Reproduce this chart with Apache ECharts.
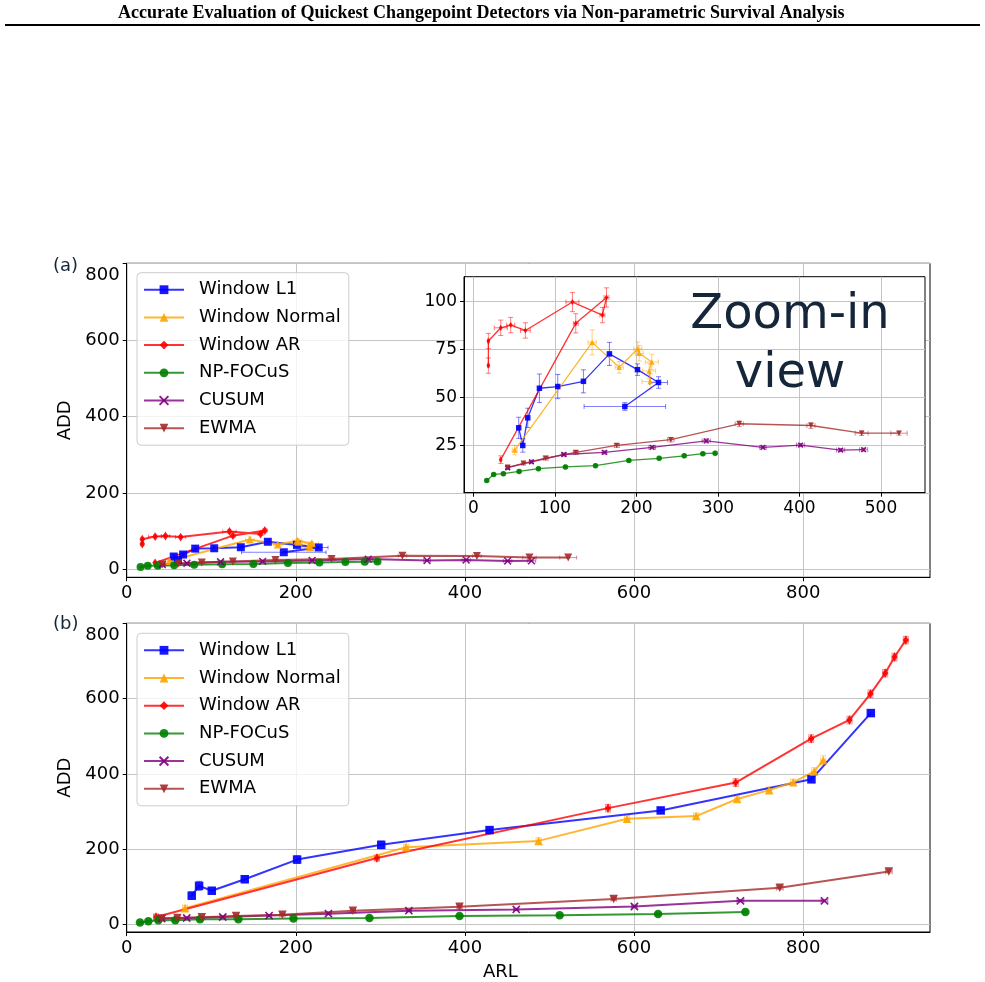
<!DOCTYPE html>
<html><head><meta charset="utf-8">
<script src="https://cdn.jsdelivr.net/npm/echarts@6/dist/echarts.min.js"></script>
<style>html,body{margin:0;padding:0;background:#fff}#c{width:985px;height:982px}</style>
</head><body><div id="c"></div>
<script>
// ---------------- DATA ----------------
const seriesNames = ['Window L1','Window Normal','Window AR','NP-FOCuS','CUSUM','EWMA'];
const xTicksMain = [0,200,400,600,800];
const yTicksMain = [0,200,400,600,800];
const xTicksInset = [0,100,200,300,400,500];
const yTicksInset = [25,50,75,100];

// Panel (a) (also the zoom-in inset): [ARL, ADD]
const aL1     = [[55.6,34.3],[60.6,25.1],[66.7,39.5],[81.0,54.9],[103.5,55.8],[135.0,58.5],[166.9,72.8],[201.3,64.6],[227.1,57.9],[185.8,45.4]];
const aL1Err  = [[1,5.5],[1,3.5],[1,5],[1,7.4],[1,6.3],[2,6],[2,6],[2,3],[11,3],[50,2]];
const aNorm   = [[50.7,22.7],[145.7,78.8],[178.8,65.8],[201.7,75.5],[203.4,73.1],[218.9,68.6],[215.6,63.9],[216.9,58.4]];
const aNormErr= [[3,2.5],[5,6.5],[5,3],[5,3.5],[5,4],[8,4],[8,4],[10,4]];
const aAR     = [[18.4,66.7],[18.4,79.5],[33.6,86.4],[45.8,87.8],[63.8,85.0],[121.5,99.8],[158.3,93.0],[163.3,102.2],[125.6,88.7],[33.6,17.7]];
const aARErr  = [[1,4],[1,4],[8,4],[5,4],[6,4],[8,5],[3,4],[3,5],[3,5],[1,2]];
const aFocus  = [[16.4,6.8],[24.9,10.0],[36.8,10.4],[56.1,11.6],[79.8,13.0],[112.9,13.9],[149.8,14.6],[190.7,17.3],[227.9,18.4],[258.6,19.7],[281.5,20.8],[296.6,21.1]];
const aFocusErr=[[1,0.6],[1,0.6],[1,0.6],[1,0.6],[1,0.6],[1,0.6],[1,0.6],[1,0.6],[1,0.6],[1,0.6],[1,0.6],[1,0.6]];
const aCusum  = [[42.1,13.5],[71.2,16.6],[111.0,20.4],[160.8,21.5],[219.3,24.1],[285.6,27.5],[355.2,24.1],[401.4,25.3],[450.5,22.7],[478.7,22.9]];
const aCusumErr=[[2,0.8],[2,0.8],[3,0.8],[3,0.8],[4,0.8],[5,1],[4,0.8],[5,0.8],[5,0.8],[5,0.8]];
const aEwma   = [[42.1,13.7],[61.4,15.8],[88.8,18.5],[125.6,21.5],[175.9,25.1],[242.2,28.1],[326.1,36.4],[414.1,35.5],[476.3,31.5],[522.1,31.5]];
const aEwmaErr= [[2,0.8],[2,0.8],[3,1],[3,1],[3,1],[4,1.2],[5,1.5],[5,1.5],[8,1.2],[10,1]];

// Panel (b): [ARL, ADD]
const bL1     = [[76.9,76.5],[85.6,102.6],[100.6,89.6],[139.6,120.1],[201.5,172.4],[301,211.5],[429.1,250.7],[631.5,302.9],[809.8,385.5],[880,561.5]];
const bL1Err  = [[3,10],[3,12],[3,8],[3,9],[3,10],[3,10],[3,8],[3,8],[3,8],[3,8]];
const bNorm   = [[69,43.4],[330.5,205.3],[487.1,222],[591.7,281],[673.4,288],[721.9,333.2],[759.8,356.8],[788.2,377.6],[813,406.4],[823.7,436.1]];
const bNormErr= [[3,8],[3,8],[3,8],[3,8],[3,8],[3,8],[3,8],[3,8],[3,10],[3,12]];
const bAR     = [[34.7,19.9],[295.9,176.5],[569.2,309],[720.2,376.9],[809.5,493.6],[854.8,543.2],[879.6,612.7],[897,667.5],[908,710.4],[921.4,755.5]];
const bARErr  = [[3,8],[3,8],[3,10],[3,10],[3,10],[3,10],[3,10],[3,10],[3,10],[3,10]];
const bFocus  = [[15.7,5.2],[25.6,8.6],[37.4,11.2],[57.5,11.2],[86.7,13.8],[132.1,13.8],[197.2,15.7],[287.1,17.2],[393.6,22.5],[512,24.3],[628.4,27.7],[731.7,32.9]];
const bFocusErr=[[2,3],[2,3],[2,3],[2,3],[2,3],[2,3],[2,3],[2,3],[2,3],[2,3],[2,3],[2,3]];
const bCusum  = [[41.4,15.7],[71,17.2],[113.6,19.9],[168.4,23.5],[238.6,28.7],[333.7,36.6],[460.7,40],[600.4,47.8],[725.8,62.7],[825.2,62.7]];
const bCusumErr=[[3,3],[3,3],[3,3],[3,3],[3,3],[3,3],[3,3],[3,3],[4,3],[4,3]];
const bEwma   = [[41.4,15.7],[59.9,17.2],[88.8,19],[129.3,22.5],[184.1,26.1],[267.5,36.6],[393.6,47],[575.9,67.9],[772.3,97.4],[901.3,141]];
const bEwmaErr= [[3,3],[3,3],[3,3],[3,3],[3,3],[3,4],[3,4],[3,4],[4,4],[4,4]];

// ---------------- STYLE ----------------
const colors  = ['#0000ff','#ffa500','#ff0000','#008000','#800080','#a52a2a'];
const symbols = ['rect','triangle','diamond','circle','path://M0,0L10,10M10,0L0,10','triangle'];
const rotates = [0,0,0,0,0,180];
const FONT = 'DejaVu Sans';
const INK = '#16263a';

const panelA = [[aL1,aL1Err],[aNorm,aNormErr],[aAR,aARErr],[aFocus,aFocusErr],[aCusum,aCusumErr],[aEwma,aEwmaErr]];
const panelB = [[bL1,bL1Err],[bNorm,bNormErr],[bAR,bARErr],[bFocus,bFocusErr],[bCusum,bCusumErr],[bEwma,bEwmaErr]];

function symSize(i, s){
  if (i===2) return [s*0.7, s*1.1];
  if (i===4) return s*0.85;
  return s;
}
function lineSeries(i, pts, axisIdx, s, lw, z){
  return {
    type:'line', name:seriesNames[i], xAxisIndex:axisIdx, yAxisIndex:axisIdx, z:z,
    data:pts, showSymbol:true, symbol:symbols[i], symbolSize:symSize(i,s), symbolRotate:rotates[i],
    lineStyle:{color:colors[i], width:lw, opacity:0.8},
    itemStyle:{color:colors[i], borderColor:colors[i], borderWidth:i===4?1.6:0, opacity:0.9},
    emphasis:{disabled:true}, animation:false, clip:false
  };
}
function errSeries(i, pts, errs, axisIdx, cap, z){
  const col = colors[i];
  return {
    type:'custom', name:'err'+i, xAxisIndex:axisIdx, yAxisIndex:axisIdx, z:z, silent:true,
    data: pts.map((p,k)=>[p[0],p[1],errs[k][0],errs[k][1]]),
    encode:{x:0,y:1}, animation:false,
    renderItem(params, api){
      const x=api.value(0), y=api.value(1), ex=api.value(2), ey=api.value(3);
      const t=api.coord([x,y+ey]), b=api.coord([x,y-ey]), l=api.coord([x-ex,y]), r=api.coord([x+ex,y]);
      const st=()=>({stroke:col, lineWidth:1, opacity:0.5});
      const L=(x1,y1,x2,y2)=>({type:'line', shape:{x1,y1,x2,y2}, style:st()});
      return {type:'group', children:[
        L(t[0],t[1],b[0],b[1]), L(t[0]-cap,t[1],t[0]+cap,t[1]), L(b[0]-cap,b[1],b[0]+cap,b[1]),
        L(l[0],l[1],r[0],r[1]), L(l[0],l[1]-cap,l[0],l[1]+cap), L(r[0],r[1]-cap,r[0],r[1]+cap)
      ]};
    }
  };
}
function xAxis(gi, min, max, ticks, fs, z, name){
  return {
    type:'value', gridIndex:gi, min, max, z,
    name: name||'', nameLocation:'middle', nameGap:31,
    nameTextStyle:{fontSize:18, fontFamily:FONT, color:'#000', padding:[0,56,0,0]},
    axisLine:{show:true, onZero:false, lineStyle:{color:'#000', width:1}},
    axisTick:{show:true, inside:false, length:4, lineStyle:{color:'#000'}, customValues:ticks},
    axisLabel:{customValues:ticks, color:'#000', fontSize:fs, fontFamily:FONT, margin:7},
    splitLine:{show:true, lineStyle:{color:'#c4c4c4', width:1}}
  };
}
function yAxis(gi, min, max, ticks, fs, z, name, shiftTop){
  return {
    type:'value', gridIndex:gi, min, max, z,
    name: name||'', nameLocation:'middle', nameGap:50, nameRotate:90,
    nameTextStyle:{fontSize:18, fontFamily:FONT, color:'#000'},
    axisLine:{show:true, onZero:false, lineStyle:{color:'#000', width:1}},
    axisTick:{show:true, inside:false, length:4, lineStyle:{color:'#000'}, customValues:ticks},
    axisLabel:{customValues:ticks, color:'#000', fontSize:fs, fontFamily:FONT, margin:7,
      formatter: v => (shiftTop && v===ticks[ticks.length-1]) ? '{s|'+v+'}' : String(v),
      rich:{s:{fontSize:fs, fontFamily:FONT, color:'#000', padding:[24,0,0,0]}}},
    splitLine:{show:true, lineStyle:{color:'#c4c4c4', width:1}}
  };
}
function legend(top){
  return {
    data: seriesNames, orient:'vertical', left:137, top:top,
    itemWidth:40, itemHeight:11, itemGap:9.7, padding:[8,8,8,6],
    backgroundColor:'rgba(255,255,255,0.8)', borderColor:'#cccccc', borderWidth:1, borderRadius:4,
    textStyle:{fontSize:18, fontFamily:FONT, color:'#000', lineHeight:18, padding:[0,0,0,10]},
    selectedMode:false
  };
}

const series = [];
panelA.forEach(([p,e],i)=>{ series.push(errSeries(i,p,e,0,2,2)); series.push(lineSeries(i,p,0,8,2,3)); });
panelA.forEach(([p,e],i)=>{ series.push(errSeries(i,p,e,1,2.5,8)); series.push(lineSeries(i,p,1,5.5,1.3,9)); });
panelB.forEach(([p,e],i)=>{ series.push(errSeries(i,p,e,2,3,2)); series.push(lineSeries(i,p,2,8.5,2,3)); });

const option = {
  animation:false,
  backgroundColor:'#fff',
  title:{text:'Accurate Evaluation of Quickest Changepoint Detectors via Non-parametric Survival Analysis',
    left:118, top:4, padding:0,
    textStyle:{fontFamily:'Liberation Serif', fontWeight:'bold', fontSize:18, color:'#000'}},
  grid:[
    {left:126.7, top:263.3, width:803.3, height:314, show:true, borderColor:'#000', borderWidth:1, backgroundColor:'#fff', z:0},
    {left:464, top:276.7, width:461, height:216, show:true, borderColor:'#000', borderWidth:1, backgroundColor:'#fff', z:5},
    {left:126.7, top:623.3, width:803.3, height:314, show:true, borderColor:'#000', borderWidth:1, backgroundColor:'#fff', z:0}
  ],
  xAxis:[
    xAxis(0, 0, 950, xTicksMain, 18, 0),
    xAxis(1, -11.5, 554, xTicksInset, 17, 6),
    xAxis(2, 0, 950, xTicksMain, 18, 0, 'ARL')
  ],
  yAxis:[
    yAxis(0, -20, 800, yTicksMain, 18, 0, 'ADD', true),
    yAxis(1, 0.5, 113, yTicksInset, 17, 6, '', false),
    yAxis(2, -20, 800, yTicksMain, 18, 0, 'ADD', true)
  ],
  legend:[legend(272.7), legend(633.3)],
  graphic:[
    {type:'line', shape:{x1:5,y1:25,x2:980,y2:25}, style:{stroke:'#000', lineWidth:2}, z:10},
    {type:'text', x:53, y:266, z:10, style:{text:'(a)', fontSize:18, fontFamily:FONT, fill:INK, textVerticalAlign:'middle'}},
    {type:'text', x:53, y:624, z:10, style:{text:'(b)', fontSize:18, fontFamily:FONT, fill:INK, textVerticalAlign:'middle'}},
    {type:'text', x:790, y:345, z:20, style:{text:'Zoom-in\nview', fontSize:48, lineHeight:59, fontFamily:FONT, fill:INK, textAlign:'center', textVerticalAlign:'middle'}}
  ],
  series: series
};
const chart = echarts.init(document.getElementById('c'), null, {renderer:'canvas'});
chart.setOption(option);
</script></body></html>
